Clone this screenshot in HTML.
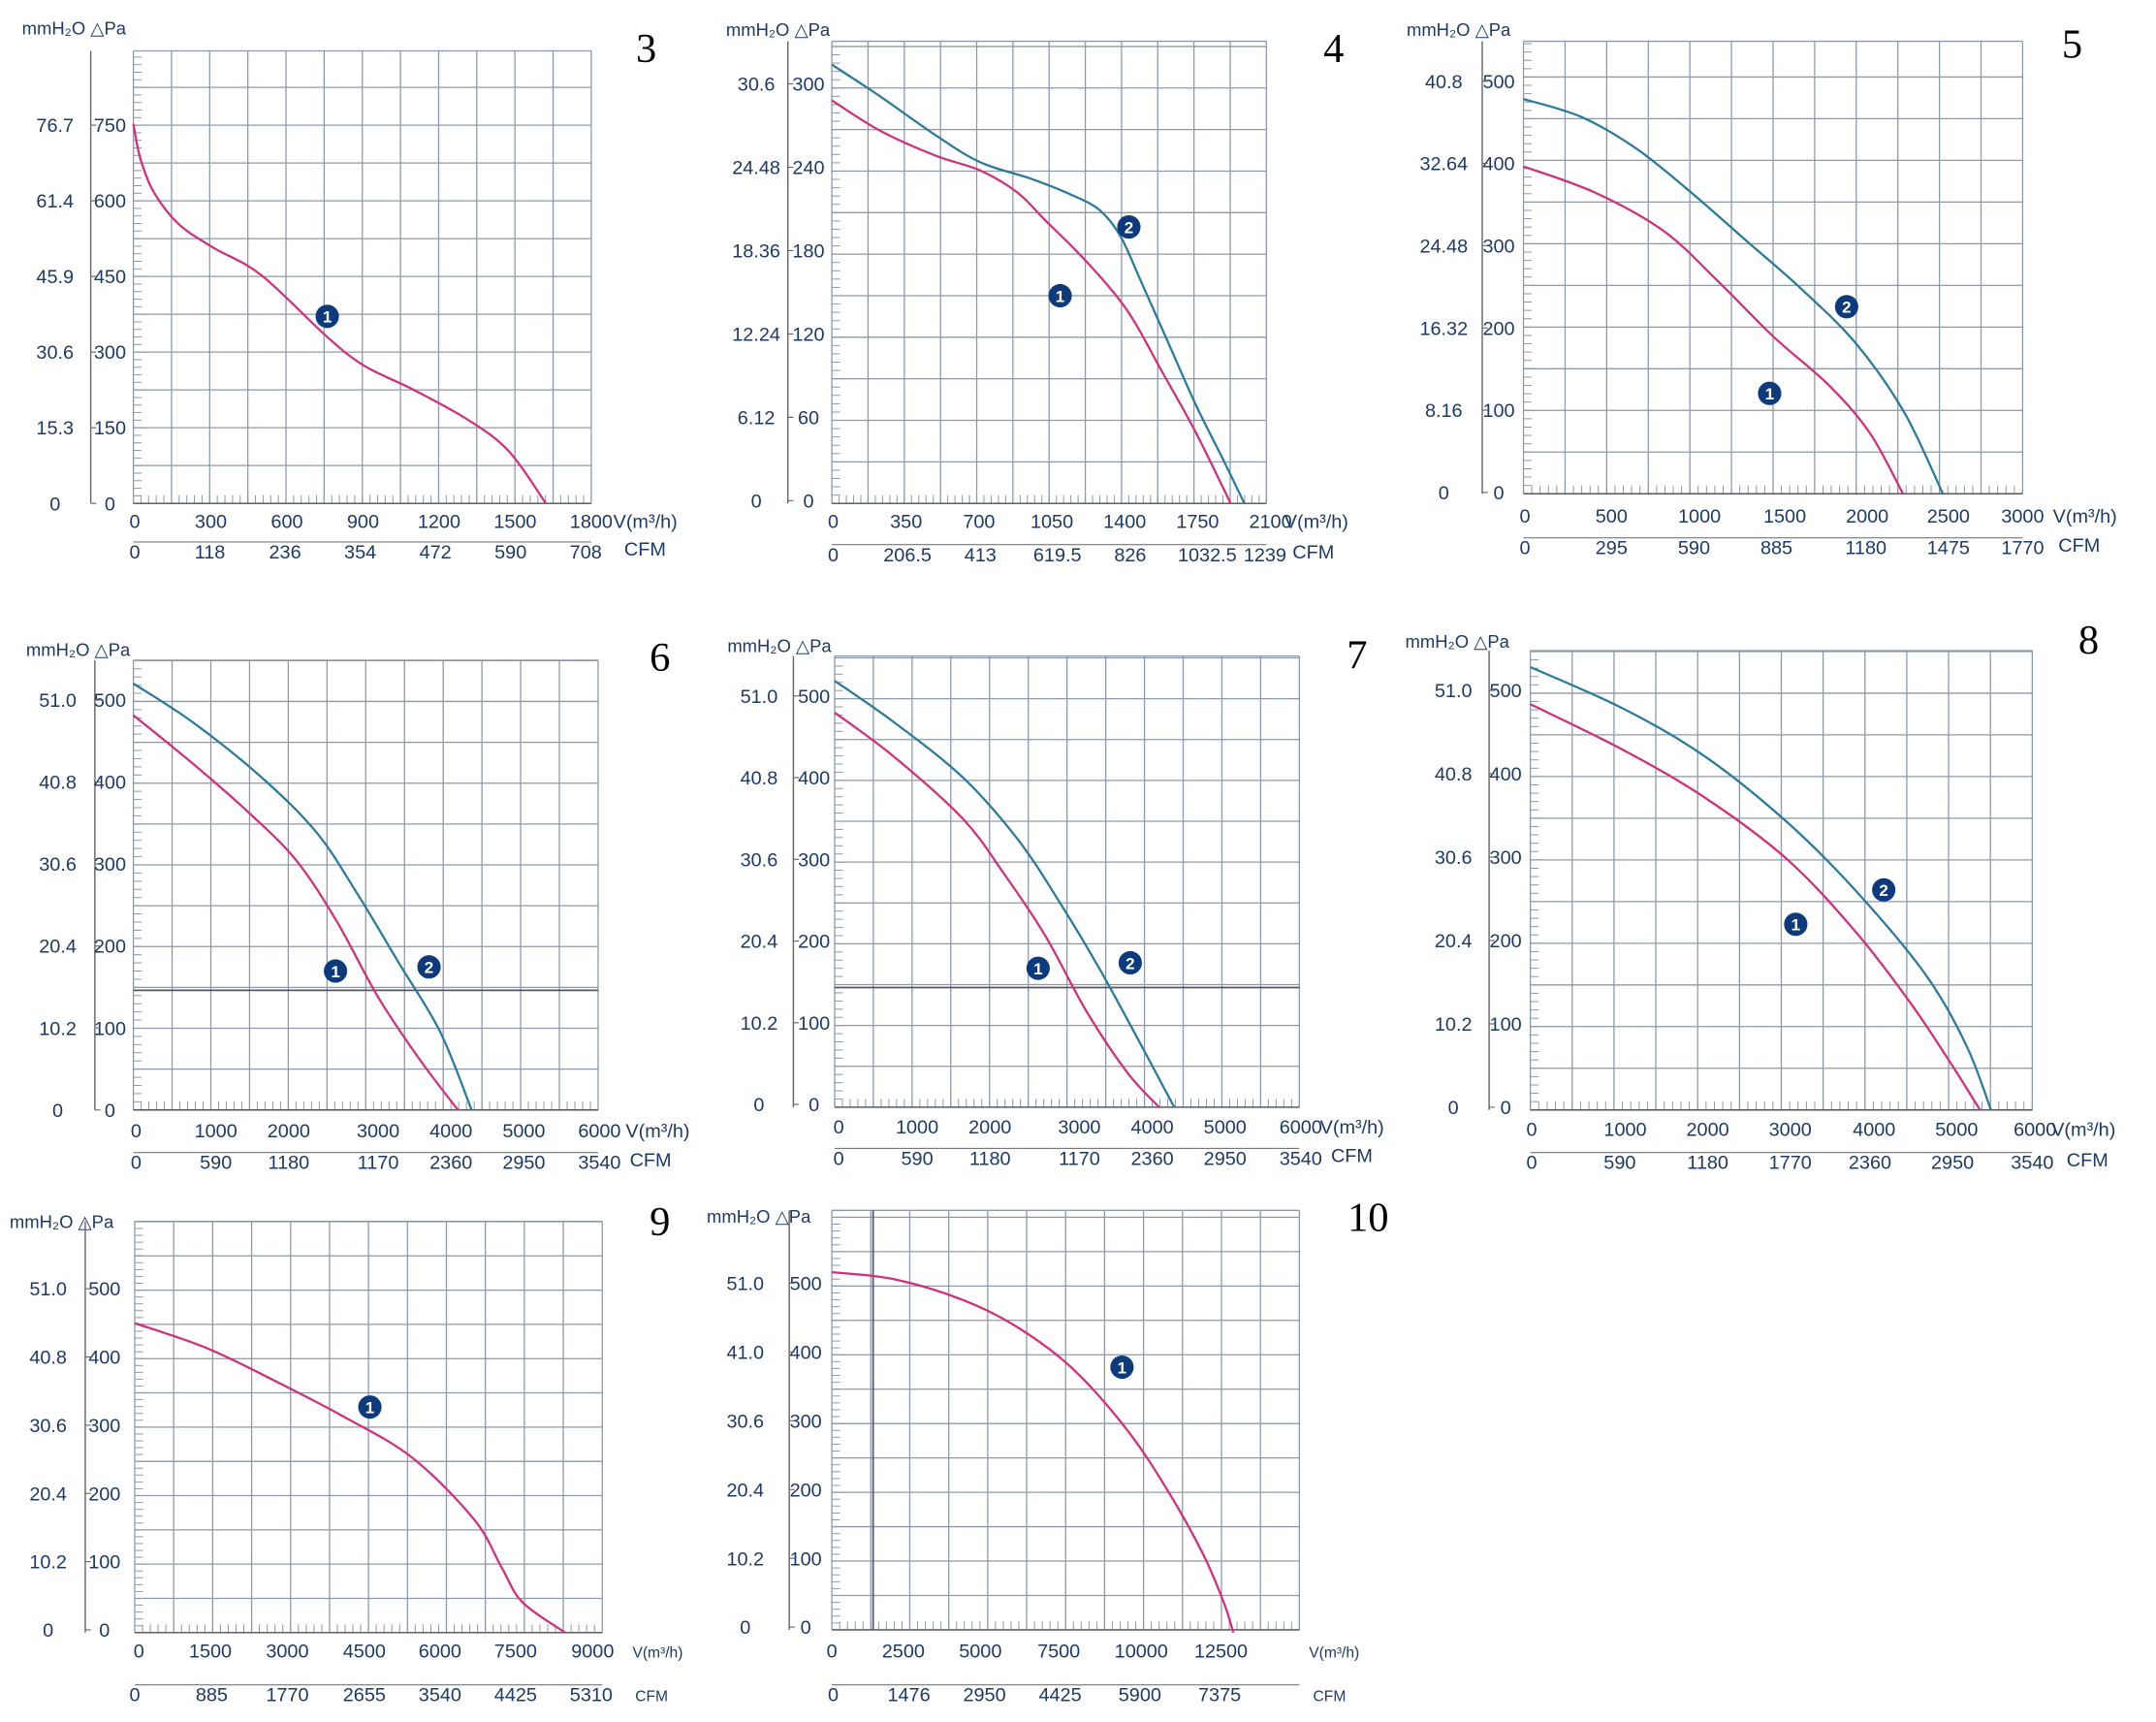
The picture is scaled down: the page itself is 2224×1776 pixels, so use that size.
<!DOCTYPE html>
<html><head><meta charset="utf-8"><style>
html,body{margin:0;padding:0;background:#fff;}
svg{display:block;}
text{font-family:"Liberation Sans",sans-serif;fill:#1d3a66;}
.num{font-family:"Liberation Serif",serif;fill:#000;font-size:30px;}
</style></head><body>
<svg id="s" width="2224" height="1776" viewBox="0 0 1568 1252" preserveAspectRatio="none" xmlns="http://www.w3.org/2000/svg"></svg>
<script>
const S=document.getElementById('s');
const NS='http://www.w3.org/2000/svg';
function el(t,a,txt){const e=document.createElementNS(NS,t);for(const k in a)e.setAttribute(k,a[k]);if(txt!==undefined)e.textContent=txt;S.appendChild(e);return e;}
function line(x1,y1,x2,y2,c,w){el('line',{x1,y1,x2,y2,stroke:c,'stroke-width':w});}
function txt(x,y,s,sz,anchor){el('text',{x,y,'font-size':sz||13,'text-anchor':anchor||'middle'},s);}
function curve(pts,c){let d='M'+pts[0].join(',');
 for(let i=0;i<pts.length-1;i++){const p0=pts[Math.max(0,i-1)],p1=pts[i],p2=pts[i+1],p3=pts[Math.min(pts.length-1,i+2)];
 const c1=[p1[0]+(p2[0]-p0[0])/6,p1[1]+(p2[1]-p0[1])/6],c2=[p2[0]-(p3[0]-p1[0])/6,p2[1]-(p3[1]-p1[1])/6];
 d+=' C'+c1.join(',')+' '+c2.join(',')+' '+p2.join(',');}
 el('path',{d,fill:'none',stroke:c,'stroke-width':1.6});}
function marker(x,y,n){el('circle',{cx:x,cy:y,r:8.5,fill:'#0d3a7c'});el('text',{x,y:y+4.5,'font-size':12,'text-anchor':'middle',style:'fill:#fff;font-weight:bold'},n);}
const MAG='#d0307c',BLU='#2a7a9c',GR='#8d98aa';
function chart(c){
 const {x0,x1,y0,y1}=c;
 txt(c.hx,c.hy,'mmH\u2082O  \u25B3Pa',13,'start');
 line(c.ax,y0,c.ax,c.yb,'#666',1);
 const nc=c.nc||12;
 for(let i=0;i<=nc;i++){const x=x0+(x1-x0)*i/nc;line(x,y0,x,c.yb,GR,0.9);}
 for(let y=c.yb;y>=y0-0.5;y-=c.rs){line(x0,y,x1,y,GR,0.9);}
 line(x0,y0,x1,y0,GR,0.9);
 for(let y=c.yb;y>=y0;y-=c.rs/5){line(x0,y,x0+6,y,GR,0.7);}
 for(let x=x0;x<=x1;x+=(x1-x0)/nc/5){line(x,c.yb,x,c.yb-6,GR,0.7);}
 line(x0,c.yb,x1,c.yb,'#555',1);
 c.yl.forEach((v,i)=>{txt(c.mx,c.yp[i]+5,c.mm[i],14,'middle');txt(c.px,c.yp[i]+5,v,14,'middle');line(c.ax,c.yp[i],c.ax+4,c.yp[i],'#666',0.8);});
 c.xl.forEach((v,i)=>txt(c.xp[i],c.xy,v,14));
 txt(c.vx,c.xy,'V(m\u00B3/h)',c.small?11:14,'start');
 line(x0,c.cy-12,c.cl||x1,c.cy-12,'#777',0.8);
 c.cf.forEach((v,i)=>txt(c.cp[i],c.cy,v,14));
 txt(c.cx,c.cy-(c.small?0:2),'CFM',c.small?11:14,'start');
 (c.hl||[]).forEach(y=>line(x0,y,x1,y,'#556',1.2));
 (c.vl||[]).forEach(x=>line(x,y0,x,c.yb,'#556',1.2));
 el('text',{x:c.nx,y:c.ny,class:'num','text-anchor':'middle'},c.n);
 if(c.b)curve(c.b,BLU);
 curve(c.m,MAG);
 (c.mk||[]).forEach(k=>marker(k[0],k[1],k[2]));
}
function lin(a,b,n){const r=[];for(let i=0;i<n;i++)r.push(a+(b-a)*i/(n-1));return r;}
chart({n:'3',nx:470,ny:45,hx:16,hy:25,x0:97,x1:430,y0:37,yb:366,rs:27.5,ax:66,mx:40,px:80,
 yl:['0','150','300','450','600','750'],mm:['0','15.3','30.6','45.9','61.4','76.7'],yp:lin(366,91,6),
 xl:['0','300','600','900','1200','1500','1800'],xp:lin(98,430,7),xy:384,vx:446,
 cf:['0','118','236','354','472','590','708'],cp:lin(98,426,7),cy:406,cx:454,
 m:[[97,90],[102,115],[112,140],[130,163],[155,180],[190,200],[238,245],[265,266],[300,283],[340,305],[370,328],[397,366]],
 mk:[[238,230,'1']]});
chart({n:'4',nx:970,ny:45,hx:528,hy:26,x0:605,x1:921,y0:30,yb:366,rs:30.2,ax:573,mx:550,px:588,
 yl:['0','60','120','180','240','300'],mm:['0','6.12','12.24','18.36','24.48','30.6'],yp:lin(364,61,6),
 xl:['0','350','700','1050','1400','1750','2100'],xp:lin(606,924,7),xy:384,vx:934,
 cf:['0','206.5','413','619.5','826','1032.5','1239'],cp:[606,660,713,769,822,878,920],cy:408,cx:940,
 b:[[605,47],[640,70],[680,98],[713,118],[750,130],[780,142],[800,153],[815,172],[830,205],[850,250],[870,295],[890,335],[905,366]],
 m:[[605,73],[640,95],[680,113],[713,124],[740,140],[760,160],[790,190],[820,226],[845,270],[870,315],[895,366]],
 mk:[[821,165,'2'],[771,215,'1']]});
chart({n:'5',nx:1507,ny:42,hx:1023,hy:26,x0:1108,x1:1471,y0:30,yb:359,rs:30.3,ax:1078,mx:1050,px:1090,
 yl:['0','100','200','300','400','500'],mm:['0','8.16','16.32','24.48','32.64','40.8'],yp:lin(358,59,6),
 xl:['0','500','1000','1500','2000','2500','3000'],xp:[1109,1172,1236,1298,1358,1417,1471],xy:380,vx:1493,
 cf:['0','295','590','885','1180','1475','1770'],cp:[1109,1172,1232,1292,1357,1417,1471],cy:403,cx:1497,
 b:[[1108,72],[1150,85],[1190,108],[1230,140],[1270,175],[1310,210],[1350,250],[1385,300],[1413,359]],
 m:[[1108,121],[1160,140],[1210,168],[1250,205],[1290,245],[1330,280],[1360,315],[1384,359]],
 mk:[[1343,223,'2'],[1287,286,'1']]});
chart({n:'6',nx:480,ny:488,hx:19,hy:477,x0:97,x1:435,y0:480,yb:807,rs:29.7,ax:69,mx:42,px:80,
 yl:['0','100','200','300','400','500'],mm:['0','10.2','20.4','30.6','40.8','51.0'],yp:lin(807,509,6),
 xl:['0','1000','2000','3000','4000','5000','6000'],xp:[99,157,210,275,328,381,436],xy:827,vx:455,
 cf:['0','590','1180','1170','2360','2950','3540'],cp:[99,157,210,275,328,381,436],cy:850,cx:458,
 hl:[720],
 b:[[97,497],[140,525],[190,565],[230,605],[260,650],[290,700],[320,750],[343,807]],
 m:[[97,520],[140,555],[180,590],[215,625],[245,670],[275,725],[305,770],[333,807]],
 mk:[[312,703,'2'],[244,706,'1']]});
chart({n:'7',nx:987,ny:486,hx:529,hy:474,x0:607,x1:945,y0:477,yb:805,rs:29.7,ax:577,mx:552,px:592,
 yl:['0','100','200','300','400','500'],mm:['0','10.2','20.4','30.6','40.8','51.0'],yp:lin(803,506,6),
 xl:['0','1000','2000','3000','4000','5000','6000'],xp:[610,667,720,785,838,891,946],xy:824,vx:960,
 cf:['0','590','1180','1170','2360','2950','3540'],cp:[610,667,720,785,838,891,946],cy:847,cx:968,
 hl:[718],
 b:[[607,495],[650,525],[700,565],[740,610],[770,655],[800,705],[830,760],[854,805]],
 m:[[607,518],[650,550],[700,595],[730,635],[760,680],[790,735],[820,780],[843,805]],
 mk:[[822,700,'2'],[755,704,'1']]});
chart({n:'8',nx:1519,ny:475,hx:1022,hy:471,x0:1113,x1:1478,y0:473,yb:807,rs:30.3,ax:1083,mx:1057,px:1095,
 yl:['0','100','200','300','400','500'],mm:['0','10.2','20.4','30.6','40.8','51.0'],yp:lin(805,502,6),
 xl:['0','1000','2000','3000','4000','5000','6000'],xp:[1114,1182,1242,1302,1363,1423,1480],xy:826,vx:1492,
 cf:['0','590','1180','1770','2360','2950','3540'],cp:[1114,1178,1242,1302,1360,1420,1478],cy:850,cx:1503,
 b:[[1113,485],[1180,515],[1240,550],[1300,598],[1350,648],[1400,708],[1430,760],[1448,807]],
 m:[[1113,512],[1180,545],[1240,580],[1300,625],[1350,678],[1390,730],[1420,775],[1440,807]],
 mk:[[1370,647,'2'],[1306,672,'1']]});
chart({n:'9',nx:480,ny:898,hx:7,hy:893,x0:98,x1:438,y0:888,yb:1187,rs:24.9,ax:62,mx:35,px:76,small:1,
 yl:['0','100','200','300','400','500'],mm:['0','10.2','20.4','30.6','40.8','51.0'],yp:lin(1185,937,6),
 xl:['0','1500','3000','4500','6000','7500','9000'],xp:[101,153,209,265,320,375,431],xy:1205,vx:460,
 cf:['0','885','1770','2655','3540','4425','5310'],cp:[98,154,209,265,320,375,430],cy:1237,cx:462,cl:438,
 m:[[98,962],[150,980],[200,1004],[250,1030],[300,1060],[345,1105],[365,1140],[380,1165],[411,1187]],
 mk:[[269,1023,'1']]});
chart({n:'10',nx:995,ny:895,hx:514,hy:889,x0:605,x1:945,y0:880,yb:1185,rs:25,ax:574,mx:542,px:586,small:1,
 yl:['0','100','200','300','400','500'],mm:['0','10.2','20.4','30.6','41.0','51.0'],yp:lin(1183,933,6),
 xl:['0','2500','5000','7500','10000','12500'],xp:[605,657,713,770,830,888],xy:1205,vx:952,
 cf:['0','1476','2950','4425','5900','7375'],cp:[606,661,716,771,829,887],cy:1237,cx:955,cl:945,
 vl:[635],
 m:[[605,925],[650,930],[700,945],[740,965],[780,995],[820,1040],[850,1085],[875,1130],[890,1165],[897,1187]],
 mk:[[816,994,'1']]});
</script>
</body></html>
